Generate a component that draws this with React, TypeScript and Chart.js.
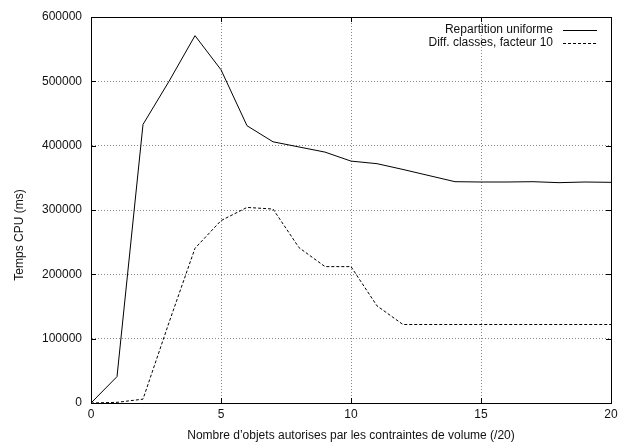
import React, { useEffect, useRef } from 'react';
import { Chart, registerables } from 'chart.js';

Chart.register(...registerables);

const xValues = [0, 1, 2, 3, 4, 5, 6, 7, 8, 9, 10, 11, 12, 13, 14, 15, 16, 17, 18, 19, 20];
const uniformValues = [0, 41000, 433000, 500000, 571000, 518000, 431000, 406000, 398000, 390000, 376000, 372000, 363000, 353500, 344000, 343500, 343500, 344000, 342500, 343500, 343000];
const diffValues = [0, 1000, 6000, 125000, 240500, 283500, 304000, 301500, 241500, 212000, 212000, 151000, 122000, 122000, 122000, 122000, 122000, 122000, 122000, 122000, 122000];
const seriesLabels = ['Repartition uniforme', 'Diff. classes, facteur 10'];
const xTicks = [0, 5, 10, 15, 20];
const yTicks = [0, 100000, 200000, 300000, 400000, 500000, 600000];
const xTitle = 'Nombre d\u2019objets autorises par les contraintes de volume (/20)';
const yTitle = 'Temps CPU (ms)';

const FONT = '"Liberation Sans", Arial, Helvetica, sans-serif';
const TEXT = '#111';
const DASH = [3, 2];

const framePlugin = {
  id: 'gnuFrame',
  afterDatasetsDraw(chart: any) {
    const { ctx, chartArea } = chart;
    const { left, right, top, bottom } = chartArea;
    const xs = chart.scales.x;
    const ys = chart.scales.y;
    ctx.save();
    ctx.strokeStyle = '#000';
    ctx.lineWidth = 1;
    ctx.setLineDash([]);
    ctx.strokeRect(Math.round(left) + 0.5, Math.round(top) + 0.5, Math.round(right - left), Math.round(bottom - top));
    const tl = 5;
    ctx.beginPath();
    xTicks.forEach((v) => {
      const px = Math.round(xs.getPixelForValue(v)) + 0.5;
      ctx.moveTo(px, bottom);
      ctx.lineTo(px, bottom - tl);
      ctx.moveTo(px, top);
      ctx.lineTo(px, top + tl);
    });
    yTicks.forEach((v) => {
      const py = Math.round(ys.getPixelForValue(v)) + 0.5;
      ctx.moveTo(left, py);
      ctx.lineTo(left + tl, py);
      ctx.moveTo(right, py);
      ctx.lineTo(right - tl, py);
    });
    ctx.stroke();
    ctx.restore();
  },
  afterDraw(chart: any) {
    const { ctx } = chart;
    ctx.save();
    ctx.fillStyle = TEXT;
    ctx.font = `12px ${FONT}`;
    ctx.translate(20, 235);
    ctx.rotate(-Math.PI / 2);
    ctx.textAlign = 'center';
    ctx.textBaseline = 'middle';
    ctx.fillText(yTitle, 0, 0);
    ctx.restore();

    ctx.save();
    ctx.font = `12px ${FONT}`;
    ctx.fillStyle = TEXT;
    ctx.textAlign = 'right';
    ctx.textBaseline = 'middle';
    const rows = [29.5, 42.5];
    chart.data.datasets.forEach((ds: any, i: number) => {
      const y = rows[i];
      ctx.fillText(ds.label, 553, y);
      ctx.beginPath();
      ctx.strokeStyle = '#000';
      ctx.lineWidth = 1;
      ctx.setLineDash(ds.borderDash || []);
      ctx.moveTo(563, Math.round(y) + 0.5);
      ctx.lineTo(597, Math.round(y) + 0.5);
      ctx.stroke();
    });
    ctx.restore();
  },
};

export default function App() {
  const ref = useRef<HTMLCanvasElement | null>(null);
  useEffect(() => {
    if (!ref.current) return;
    const chart = new Chart(ref.current, {
      type: 'line',
      data: {
        datasets: [
          {
            label: seriesLabels[0],
            data: xValues.map((x, i) => ({ x, y: uniformValues[i] })),
            borderColor: '#000',
            borderWidth: 1,
            pointRadius: 0,
            fill: false,
            tension: 0,
          },
          {
            label: seriesLabels[1],
            data: xValues.map((x, i) => ({ x, y: diffValues[i] })),
            borderColor: '#000',
            borderWidth: 1,
            borderDash: DASH,
            pointRadius: 0,
            fill: false,
            tension: 0,
          },
        ],
      },
      options: {
        responsive: false,
        animation: false,
        devicePixelRatio: 1,
        layout: { padding: { left: 0, right: 17, top: 17, bottom: 0 } },
        plugins: { legend: { display: false }, tooltip: { enabled: false } },
        scales: {
          x: {
            type: 'linear',
            min: 0,
            max: 20,
            afterFit: (s: any) => { s.height = 40; },
            afterBuildTicks: (s: any) => { s.ticks = xTicks.map((v) => ({ value: v })); },
            ticks: {
              color: TEXT,
              font: { family: FONT, size: 12 },
              padding: 4,
              maxRotation: 0,
              callback: (v: any) => String(v),
            },
            grid: { color: '#888', drawTicks: false, lineWidth: 1 },
            border: { display: true, color: '#000', dash: [1, 2] },
            title: {
              display: true,
              text: xTitle,
              color: TEXT,
              font: { family: FONT, size: 12 },
              padding: { top: 0, bottom: 0 },
            },
          },
          y: {
            type: 'linear',
            min: 0,
            max: 600000,
            afterFit: (s: any) => { s.width = 91; },
            afterBuildTicks: (s: any) => { s.ticks = yTicks.map((v) => ({ value: v })); },
            ticks: {
              color: TEXT,
              font: { family: FONT, size: 12 },
              padding: 9,
              callback: (v: any) => String(v),
            },
            grid: { color: '#888', drawTicks: false, lineWidth: 1 },
            border: { display: true, color: '#000', dash: [1, 2] },
          },
        },
      },
      plugins: [framePlugin],
    } as any);
    return () => chart.destroy();
  }, []);
  return (
    <div style={{ position: 'fixed', left: 0, top: 0, width: 628, height: 443, background: '#fff' }}>
      <canvas ref={ref} width={628} height={443} style={{ display: 'block', width: 628, height: 443 }} />
    </div>
  );
}
